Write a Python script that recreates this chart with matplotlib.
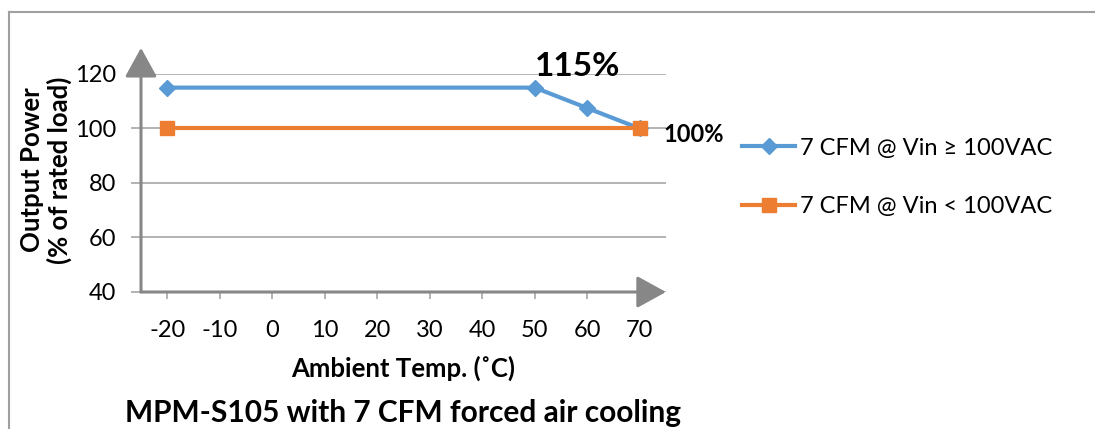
import matplotlib
matplotlib.use('Agg')
import matplotlib.pyplot as plt
from matplotlib.lines import Line2D

# Donnees du graphique
temps = [-20, -10, 0, 10, 20, 30, 40, 50, 60, 70]
high_x = [-20, 50, 60, 70]
high_y = [115, 115, 107.5, 100]
low_x = [-20, 70]
low_y = [100, 100]
y_ticks = [40, 60, 80, 100, 120]
high_label = '7 CFM @ Vin \u2265 100VAC'
low_label = '7 CFM @ Vin < 100VAC'

plt.rcParams['font.family'] = ['Lato', 'DejaVu Sans']

blue = '#5B9BD5'
orange = '#ED7D31'
grid_col = '#A6A6A6'
axis_col = '#878787'

fig = plt.figure(figsize=(10.95, 4.29), dpi=100)
ax = fig.add_axes([141 / 1095, 137 / 429, 525 / 1095, 218 / 429])

# positions des categories
hx = [temps.index(t) for t in high_x]
lx = [temps.index(t) for t in low_x]

ax.plot(hx, high_y, color=blue, lw=3, marker='D', markersize=8, label=high_label, zorder=3)
ax.plot(lx, low_y, color=orange, lw=3, marker='s', markersize=10, label=low_label, zorder=4)

ax.set_xlim(-0.5, len(temps) - 0.5)
ax.set_ylim(40, 120)
ax.set_xticks(range(len(temps)))
ax.set_xticklabels([str(t) for t in temps])
ax.set_yticks(y_ticks)

for s in ax.spines.values():
    s.set_visible(False)
ax.yaxis.grid(True, color=grid_col, lw=1.2)
ax.set_axisbelow(True)
ax.tick_params(axis='y', length=7, width=1.2, color=grid_col, pad=11, labelsize=17)
ax.tick_params(axis='x', length=5, width=1.2, color=grid_col, pad=15, labelsize=17)

# axes avec fleches
arrow = dict(arrowstyle='-|>,head_length=1.0,head_width=0.55', color=axis_col,
             lw=2.2, mutation_scale=18, shrinkA=0, shrinkB=0)
ax.annotate('', xy=(0, 1.12), xytext=(0, 0), xycoords='axes fraction',
            arrowprops=arrow, annotation_clip=False, zorder=5)
ax.annotate('', xy=(1.0, 0), xytext=(0, 0), xycoords='axes fraction',
            arrowprops=arrow, annotation_clip=False, zorder=5)

# etiquettes de donnees
ax.annotate('115%', xy=(hx[1], high_y[1]), xytext=(31, 15), textcoords='offset points',
            ha='center', va='center', fontsize=24, fontweight='bold', annotation_clip=False)
ax.annotate('100%', xy=(lx[1], low_y[1]), xytext=(17, -4), textcoords='offset points',
            ha='left', va='center', fontsize=17, fontweight='bold', annotation_clip=False)

fig.text(46 / 1095, 1 - 170 / 429, 'Output Power\n(% of rated load)', rotation=90,
         ha='center', va='center', fontsize=18.5, fontweight='bold', linespacing=1.1)
fig.text(403 / 1095, 1 - 368 / 429, 'Ambient Temp. (\u02daC)',
         ha='center', va='center', fontsize=18.5, fontweight='bold')
fig.text(403 / 1095, 1 - 413 / 429, 'MPM-S105 with 7 CFM forced air cooling',
         ha='center', va='center', fontsize=21.5, fontweight='bold')

leg = fig.legend(loc='center left', bbox_to_anchor=(742 / 1095, 1 - 177.5 / 429),
                 frameon=False, fontsize=17, handlelength=2.25, handletextpad=0.2,
                 labelspacing=1.6, borderpad=0, borderaxespad=0)

# cadre exterieur
fig.add_artist(Line2D([9 / 1095, 9 / 1095], [0, 1 - 12 / 429], color='#A0A0A0', lw=1.5))
fig.add_artist(Line2D([9 / 1095, 1], [1 - 12 / 429, 1 - 12 / 429], color='#A0A0A0', lw=1.5))

fig.savefig('out.png', dpi=100)
